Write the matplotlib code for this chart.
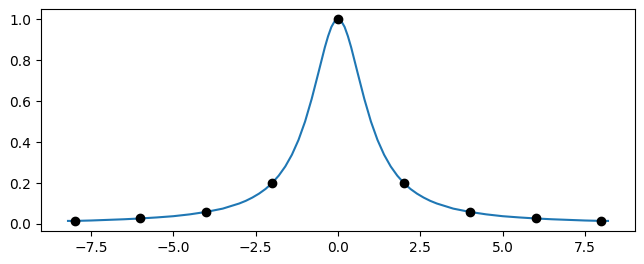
import numpy as np
import matplotlib
matplotlib.use("Agg")
import matplotlib.pyplot as plt

# sample points (black dots)
node_x = [-8, -6, -4, -2, 0, 2, 4, 6, 8]
node_y = [0.015, 0.027, 0.059, 0.200, 1.000, 0.200, 0.059, 0.027, 0.015]

# smooth curve, values
curve_x = [-8.2, -8.0, -7.5, -7.0, -6.5, -6.0, -5.5, -5.0, -4.5, -4.0, -3.5,
           -3.0, -2.8, -2.6, -2.4, -2.2, -2.0, -1.8, -1.6, -1.4, -1.2, -1.0,
           -0.8, -0.6, -0.4, -0.3, -0.2, -0.1, 0.0, 0.1, 0.2, 0.3, 0.4, 0.6,
           0.8, 1.0, 1.2, 1.4, 1.6, 1.8, 2.0, 2.2, 2.4, 2.6, 2.8, 3.0,
           3.5, 4.0, 4.5, 5.0, 5.5, 6.0, 6.5, 7.0, 7.5, 8.0, 8.2]
curve_y = [0.015, 0.015, 0.017, 0.020, 0.023, 0.027, 0.032, 0.038, 0.047, 0.059, 0.075,
           0.100, 0.113, 0.129, 0.148, 0.171, 0.200, 0.236, 0.281, 0.338, 0.410, 0.500,
           0.610, 0.735, 0.862, 0.917, 0.962, 0.990, 1.000, 0.990, 0.962, 0.917, 0.862, 0.735,
           0.610, 0.500, 0.410, 0.338, 0.281, 0.236, 0.200, 0.171, 0.148, 0.129, 0.113, 0.100,
           0.075, 0.059, 0.047, 0.038, 0.032, 0.027, 0.023, 0.020, 0.017, 0.015, 0.015]

fig, ax = plt.subplots(figsize=(6.44, 2.64), dpi=100)
fig.subplots_adjust(left=41/644, right=635/644, bottom=1-231/264, top=1-9/264)
ax.plot(curve_x, curve_y)
ax.plot(node_x, node_y, "ko")
fig.savefig("out.png")
